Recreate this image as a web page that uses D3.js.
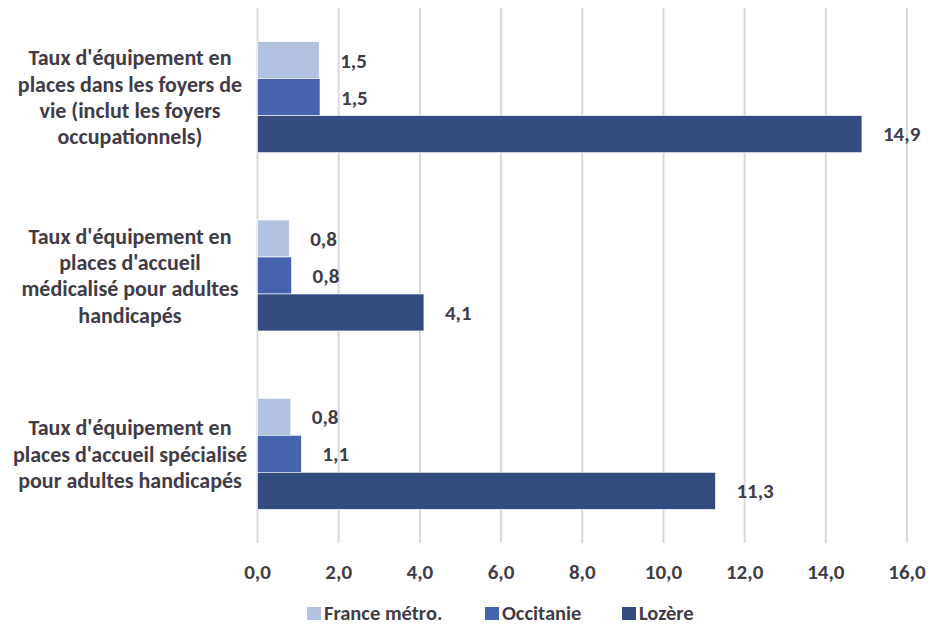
<!DOCTYPE html>
<html><head><meta charset="utf-8">
<script src="https://cdn.jsdelivr.net/npm/d3@7"></script>
<style>
body{margin:0;background:#fff;}
text{font-family:Carlito,Lato,"Open Sans",sans-serif;font-weight:bold;fill:#413c47;}
</style></head><body>
<svg id="chart" width="934" height="625"></svg>
<script>
const categories = [
  ["Taux d'équipement en","places dans les foyers de","vie (inclut les foyers","occupationnels)"],
  ["Taux d'équipement en","places d'accueil","médicalisé pour adultes","handicapés"],
  ["Taux d'équipement en","places d'accueil spécialisé","pour adultes handicapés"]
];
const seriesNames = ["France métro.","Occitanie","Lozère"];
const franceValues = [1.52, 0.78, 0.82];
const occitanieValues = [1.54, 0.84, 1.08];
const lozereValues = [14.89, 4.1, 11.28];
const xTicks = [0,2,4,6,8,10,12,14,16];
const colors = ["#b4c2e2","#4664ad","#344b80"];

const seriesValues = [franceValues, occitanieValues, lozereValues];
const svg = d3.select("#chart");
const x = d3.scaleLinear().domain([0,16]).range([257.5,907]);
const y = d3.scaleBand().domain(d3.range(categories.length)).range([8,543]).paddingInner(0.378).paddingOuter(0.189);
const ySub = d3.scaleBand().domain(d3.range(seriesNames.length)).range([0,y.bandwidth()]);
const fmt = v => d3.format(".1f")(v).replace(".",",");

// gridlines
svg.append("g").selectAll("line").data(xTicks).join("line")
  .attr("x1",d=>x(d)).attr("x2",d=>x(d)).attr("y1",8).attr("y2",543)
  .attr("stroke","#d9d9d9").attr("stroke-width",2);

// x tick labels
svg.append("g").selectAll("text").data(xTicks).join("text")
  .attr("x",d=>x(d)).attr("y",572).attr("dy","0.35em").attr("text-anchor","middle")
  .style("font-size","21px").text(d=>fmt(d));

// bars
const groups = svg.append("g").selectAll("g").data(categories).join("g")
  .attr("transform",(d,i)=>`translate(0,${y(i)})`);
groups.each(function(d,i){
  const g = d3.select(this);
  seriesValues.forEach((vals,s)=>{
    g.append("rect").attr("x",x(0)).attr("y",ySub(s))
      .attr("width",x(vals[i])-x(0)).attr("height",ySub.bandwidth())
      .attr("fill",colors[s]).attr("stroke","#ffffff").attr("stroke-width",0.6);
    g.append("text").attr("x",x(vals[i])+21).attr("y",ySub(s)+ySub.bandwidth()/2)
      .attr("dy","0.35em").style("font-size","21px").text(fmt(vals[i]));
  });
});

// category labels
svg.append("g").selectAll("text").data(categories).join("text")
  .attr("text-anchor","middle").style("font-size","22px")
  .attr("transform",(d,i)=>`translate(130,${y(i)+y.bandwidth()/2})`)
  .each(function(lines){
    const t = d3.select(this);
    const lh = 26.3;
    const off = -(lines.length-1)*lh/2;
    lines.forEach((l,k)=>t.append("tspan").attr("x",0).attr("y",off+k*lh).attr("dy","0.35em").text(l));
  });

// legend
const legendX = [307,485,622];
const lg = svg.append("g").selectAll("g").data(seriesNames).join("g")
  .attr("transform",(d,i)=>`translate(${legendX[i]},613)`);
lg.append("rect").attr("x",0).attr("y",-6).attr("width",14).attr("height",13).attr("fill",(d,i)=>colors[i]);
lg.append("text").attr("x",17).attr("dy","0.35em").style("font-size","20.5px").text(d=>d);
</script></body></html>
